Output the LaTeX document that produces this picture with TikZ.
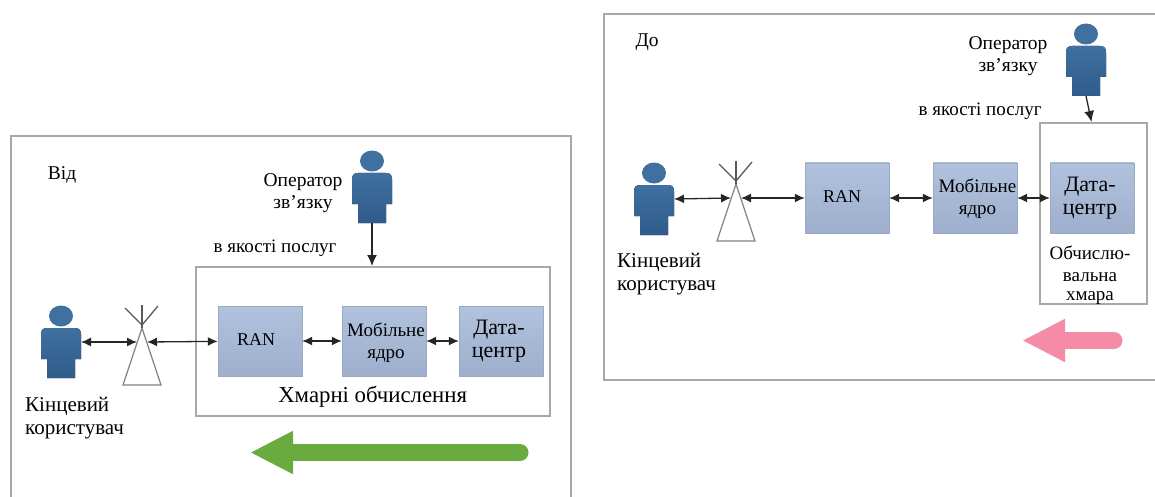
\documentclass[tikz,border=0pt]{standalone}
\usepackage{fontspec}
\setmainfont{Liberation Serif}
\usetikzlibrary{arrows.meta}

\definecolor{framegray}{HTML}{A8A8A8}
\definecolor{blocktop}{HTML}{B0C2DD}
\definecolor{blockbot}{HTML}{9DAFCC}
\definecolor{persontop}{HTML}{3F70A0}
\definecolor{personbot}{HTML}{2F5C8A}
\definecolor{greenarrow}{HTML}{6AAB3F}
\definecolor{pinkarrow}{HTML}{F48CA8}

\newcommand{\fsize}[1]{\fontsize{#1}{#1}\selectfont}

\tikzset{
    person/.pic={
        \fill[persontop] (0,0) ellipse (12pt and 10.5pt);
        \fill[top color=persontop, bottom color=personbot]
            (-20,43) -- (-20,18) .. controls (-20,14) and (-18,12) .. (-14,12) -- (14,12)
            .. controls (18,12) and (20,14) .. (20,18) -- (20,43) -- (14,43) -- (14,62) -- (-14,62) -- (-14,43) -- cycle;
        \coordinate (-r) at (20,26);
        \coordinate (-b) at (0,62);
    },
    antenna/.pic={
        \draw[draw=gray, line width=1.2pt, fill=white] (0,0) -- (19,57) -- (-19,57) -- cycle;
        \draw[draw=black!65, line width=1.3pt] (0,-23) -- (0,0);
        \draw[draw=black!65, line width=1.3pt] (-17,-20) -- (0,-3) -- (16,-22);
        \coordinate (-l) at (-5,14);
        \coordinate (-r) at (5,14);
    }
}

\begin{document}
\begin{tikzpicture}[x=1pt, y=-1pt, auto, node distance=124pt,
    frame/.style={draw=framegray, line width=1.8pt},
    box/.style={draw=framegray, line width=1.8pt, rectangle, anchor=north west},
    block/.style={rectangle, top color=blocktop, bottom color=blockbot, draw=blockbot!90!gray, minimum width=84pt, minimum height=70pt, inner sep=0pt, align=center},
    caption/.style={font=\fsize{19.5}, inner sep=0pt, align=center},
    small/.style={font=\fsize{19}, inner sep=0pt, align=center},
    big/.style={font=\fsize{22}, inner sep=0pt, align=center},
    link/.style={<->, >={Latex[length=10pt,width=9pt]}, line width=1.3pt, black!85},
    feed/.style={->, >={Latex[length=11pt,width=10pt]}, line width=1.3pt, black!85},
    fat/.style={line cap=round, -{Triangle[length=43pt,width=40pt]}}]

    \useasboundingbox (0,0) rectangle (1155,497);

    % ---------------------------------------------------------

    \coordinate (F1a) at (11,497);
    \coordinate (F1b) at (11,136);
    \coordinate (F1c) at (571,136);
    \coordinate (F1d) at (571,497);
    \draw[frame] (F1a) -- (F1b) -- (F1c) -- (F1d);

    \node[box, minimum width=354pt, minimum height=149pt] (Cloud1) at (195,266) {};

    \node[block, label={[shift={(-4pt,1pt)}, caption, font=\fsize{18}]center:RAN}] (Ran1) at (260,341) {};

    \node[block, right of=Ran1, label={[shift={(2pt,-2pt)}, small]center:Мобільне\\[3pt]ядро}] (Core1) {};

    \node[block, right of=Core1, node distance=117pt, label={[shift={(-2pt,0pt)}, big]center:Дата-\\[1pt]центр}] (Dc1) {};

    \pic (User1) at (61,316) {person};
    \pic (Oper1) at (372,161) {person};
    \pic (Tower1) at (142,328) {antenna};

    \node[caption] (From) at (64.5,175) { Від };
    \node[caption] (OperText1) at (303,193) { Оператор\\[3pt]зв'язку };
    \node[small] (Quality1) at (277.5,248) { в якості послуг };
    \node[caption, align=left, font=\fsize{21}, anchor=west] (UserText1) at (25,418) { Кінцевий\\[2pt]користувач };
    \node[caption, font=\fsize{22.8}] (CloudText1) at (375.5,397) { Хмарні обчислення };

    \coordinate (GreenEnd) at (520,452.5);
    \coordinate (GreenTip) at (250,452.5);

    % ---------------------------------------------------------

    \coordinate (F2a) at (1155,14);
    \coordinate (F2b) at (604,14);
    \coordinate (F2c) at (604,380);
    \coordinate (F2d) at (1155,380);
    \draw[frame] (F2a) -- (F2b) -- (F2c) -- (F2d);

    \node[box, minimum width=107pt, minimum height=181pt] (Cloud2) at (1039,122) {};

    \node[block, label={[shift={(-5pt,1pt)}, caption, font=\fsize{18}]center:RAN}] (Ran2) at (847,198) {};

    \node[block, right of=Ran2, node distance=128pt, label={[shift={(2.5pt,-1pt)}, small]center:Мобільне\\[3pt]ядро}] (Core2) {};

    \node[block, right of=Core2, node distance=117pt, label={[shift={(-2pt,0pt)}, big]center:Дата-\\[1pt]центр}] (Dc2) {};

    \pic (User2) at (654,173) {person};
    \pic (Oper2) at (1086,34) {person};
    \pic (Tower2) at (736,184) {antenna};

    \node[caption] (To) at (649.5,42) { До };
    \node[caption] (OperText2) at (1008,56) { Оператор\\[2pt]зв'язку };
    \node[small] (Quality2) at (982.5,111) { в якості послуг };
    \node[caption, align=left, font=\fsize{21}, anchor=west] (UserText2) at (617,274) { Кінцевий\\[2pt]користувач };
    \node[small] (CloudText2) at (1090,275) { Обчислю-\\[3pt]вальна\\[0pt]хмара };

    \coordinate (PinkEnd) at (1114,340.5);
    \coordinate (PinkTip) at (1022,340.5);

    % ---------------------------------------------------------

    \path[link]
    {
        (User1-r) edge (Tower1-l)
        (Tower1-r) edge (Ran1)
        (Ran1) edge (Core1)
        (Core1) edge (Dc1)

        (User2-r) edge (Tower2-l)
        (Tower2-r) edge (Ran2)
        (Ran2) edge (Core2)
        (Core2) edge (Dc2)
    };

    \path[feed]
    {
        (Oper1-b) edge (Cloud1.north -| Oper1-b)
        (Oper2-b) edge ([xshift=-.5pt]Dc2.north |- Cloud2.north)
    };

    \draw[fat, greenarrow, line width=17pt] (GreenEnd) -- (GreenTip);
    \draw[fat, pinkarrow, line width=17pt] (PinkEnd) -- (PinkTip);
\end{tikzpicture}
\end{document}
